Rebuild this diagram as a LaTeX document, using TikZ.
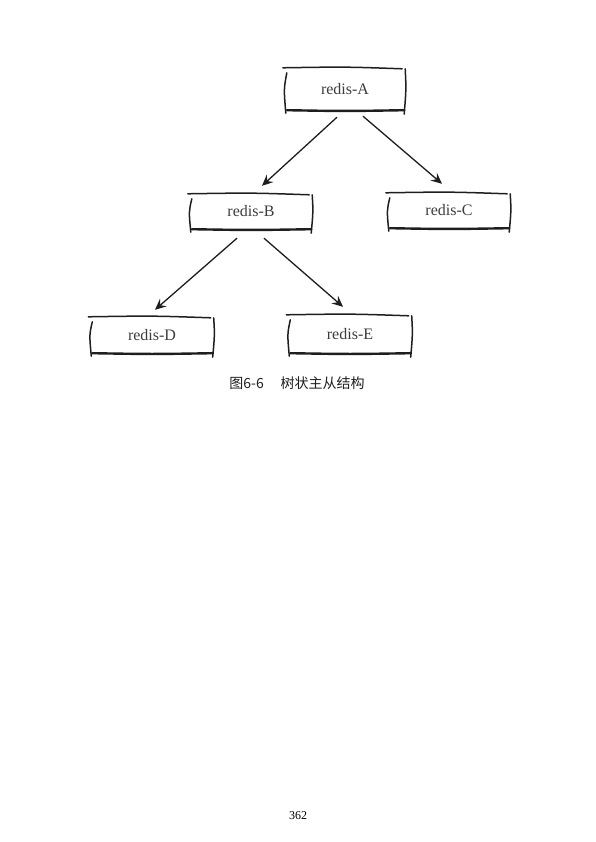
\documentclass[tikz,border=0pt]{standalone}
\usepackage{fontspec}
\newfontfamily\cjk{Noto Sans CJK SC}
\newfontfamily\pagefont{Liberation Serif}
\newfontfamily\boxfont{Liberation Serif}
\usetikzlibrary{calc,arrows.meta}
\definecolor{boxtext}{HTML}{3C3C3C}
\definecolor{ink}{HTML}{1E1E1E}
\newcommand{\sketchframe}[1]{%
  \draw[skt, line width=1.5pt] ($(#1.north west)+(-2,0)$) .. controls ($(#1.north)+(0,-1)$) .. ($(#1.north east)+(-3,1)$);
  \draw[skt, line width=2.4pt] ($(#1.south west)+(2,0)$) .. controls ($(#1.south)+(0,1)$) .. ($(#1.south east)+(-1,0)$);
  \draw[skt, line width=1.5pt] ($(#1.north west)+(2,5)$) .. controls ($(#1.west)+(-1,0)$) .. ($(#1.south west)+(1,3)$);
  \draw[skt, line width=1.5pt] ($(#1.north east)+(0,1)$) .. controls ($(#1.east)+(1,0)$) .. ($(#1.south east)+(-1,4)$);
}
\begin{document}
\begin{tikzpicture}[x=1pt,y=-1pt,
  box/.style={inner sep=0pt, text=boxtext, font=\boxfont\fontsize{16}{18}\selectfont},
  skt/.style={line cap=round, line join=round, draw=ink},
  arr/.style={line width=1.3pt, draw=ink, -{Stealth[length=11pt,width=10pt,inset=4pt]}}]
\useasboundingbox (0,0) rectangle (596,842);
\node[box, minimum width=120pt, minimum height=42pt] (A) at (345,89) {redis-A};
\node[box, minimum width=122pt, minimum height=35pt] (B) at (251,211.5) {redis-B};
\node[box, minimum width=122pt, minimum height=35pt] (C) at (449,210.5) {redis-C};
\node[box, minimum width=123pt, minimum height=36pt] (D) at (152,335) {redis-D};
\node[box, minimum width=123pt, minimum height=38pt] (E) at (350,334) {redis-E};
\foreach \n in {A,B,C,D,E}{\sketchframe{\n}}
\draw[arr] ($(A.south)+(-8,7)$) -- ($(B.north)+(11,-8)$);
\draw[arr] ($(A.south)+(18,6)$) -- ($(C.north)+(-7,-9)$);
\draw[arr] ($(B.south)+(-14,9)$) -- ($(D.north)+(3,-7)$);
\draw[arr] ($(B.south)+(13,9)$) -- ($(E.north)+(-7,-8)$);
\node[font=\cjk\fontsize{14}{16}\selectfont, text=ink, inner sep=0pt] (cap) at (297,383) {图6-6\hspace{1.2em}树状主从结构};
\node[font=\pagefont\fontsize{12}{14}\selectfont, inner sep=0pt] (pg) at (298,816) {362};
\end{tikzpicture}
\end{document}
